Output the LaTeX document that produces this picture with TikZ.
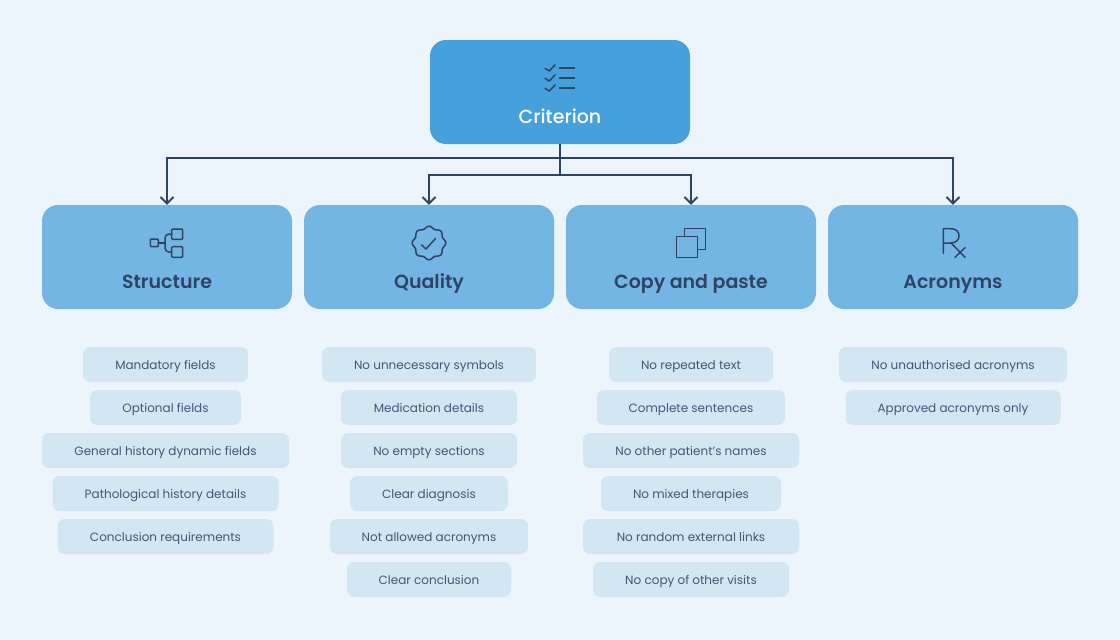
\documentclass[tikz,border=0pt]{standalone}
\usepackage{fontspec}
\setmainfont{Poppins}
\newfontfamily\headfont{Poppins SemiBold}
\newfontfamily\rootfont{Poppins Medium}
\usetikzlibrary{arrows.meta}
\definecolor{bgc}{HTML}{EDF5FC}
\definecolor{rootc}{HTML}{46A0DB}
\definecolor{headc}{HTML}{74B6E3}
\definecolor{pillc}{HTML}{D2E7F4}
\definecolor{ink}{HTML}{2F4364}
\tikzset{
  rootbox/.style={fill=rootc,rounded corners=16pt,minimum width=260pt,minimum height=104pt,inner sep=0pt,text=white,font=\rootfont\fontsize{19}{19}\selectfont},
  headbox/.style={fill=headc,rounded corners=16pt,minimum width=250pt,minimum height=104pt,inner sep=0pt,text=ink,font=\headfont\fontsize{19}{19}\selectfont},
  pill/.style={fill=pillc,rounded corners=7pt,minimum height=35pt,inner sep=0pt,text height=10.5pt,text depth=1.5pt,text=ink!90,font=\fontsize{12}{12}\selectfont},
  conn/.style={draw=ink,line width=1.9pt,-{Straight Barb[length=6.5pt,width=13pt,line width=1.9pt]}},
  icon/.style={draw=ink,line width=1.5pt,line join=round,line cap=round},
}
\newcommand{\lowtext}[1]{\raisebox{-31pt}[0pt][0pt]{#1}}
\begin{document}
\begin{tikzpicture}[x=1pt,y=-1pt]
\useasboundingbox (0,0) rectangle (1120,640);
\fill[bgc] (0,0) rectangle (1120,640);
\node[rootbox] (root) at (560,92) {\lowtext{Criterion}};
\node[headbox] (structure) at (167,257) {\lowtext{Structure}};
\node[headbox] (quality) at (429,257) {\lowtext{Quality}};
\node[headbox] (copy) at (691,257) {\lowtext{Copy and paste}};
\node[headbox] (acronyms) at (953,257) {\lowtext{Acronyms}};
\coordinate (outer) at (560,158);
\coordinate (inner) at (560,175);
\draw[conn,-] (root.south) -- (inner);
\draw[conn] (outer) -| (structure.north);
\draw[conn] (outer) -| (acronyms.north);
\draw[conn] (inner) -| (quality.north);
\draw[conn] (inner) -| (copy.north);
% pills: column 1
\node[pill,minimum width=165pt] (s1) at (165.5,364.5) {Mandatory fields};
\node[pill,minimum width=151pt] (s2) at (165.5,407.5) {Optional fields};
\node[pill,minimum width=247pt] (s3) at (165.5,450.5) {General history dynamic fields};
\node[pill,minimum width=226pt] (s4) at (165.5,493.5) {Pathological history details};
\node[pill,minimum width=216pt] (s5) at (165.5,536.5) {Conclusion requirements};
% column 2
\node[pill,minimum width=214pt] (q1) at (429,364.5) {No unnecessary symbols};
\node[pill,minimum width=176pt] (q2) at (429,407.5) {Medication details};
\node[pill,minimum width=176pt] (q3) at (429,450.5) {No empty sections};
\node[pill,minimum width=158pt] (q4) at (429,493.5) {Clear diagnosis};
\node[pill,minimum width=198pt] (q5) at (429,536.5) {Not allowed acronyms};
\node[pill,minimum width=164pt] (q6) at (429,579.5) {Clear conclusion};
% column 3
\node[pill,minimum width=164pt] (c1) at (691,364.5) {No repeated text};
\node[pill,minimum width=188pt] (c2) at (691,407.5) {Complete sentences};
\node[pill,minimum width=216pt] (c3) at (691,450.5) {No other patient’s names};
\node[pill,minimum width=180pt] (c4) at (691,493.5) {No mixed therapies};
\node[pill,minimum width=216pt] (c5) at (691,536.5) {No random external links};
\node[pill,minimum width=196pt] (c6) at (691,579.5) {No copy of other visits};
% column 4
\node[pill,minimum width=228pt] (a1) at (953,364.5) {No unauthorised acronyms};
\node[pill,minimum width=215pt] (a2) at (953,407.5) {Approved acronyms only};
% checklist icon
\foreach \d in {0,10,20}{
  \draw[icon] (545,68.3+\d) -- (549.3,71+\d) -- (555,65+\d);
  \draw[icon,line cap=butt,line width=1.7pt] (559.3,67.7+\d) -- (575,67.7+\d);
}
% structure icon
\draw[icon,rounded corners=1pt] (150.3,239) rectangle (158.3,246.7);
\draw[icon,rounded corners=1pt] (171.7,229) rectangle (182.7,239.3);
\draw[icon,rounded corners=1pt] (171.7,246.7) rectangle (182.7,257.3);
\draw[icon] (158.3,243) -- (165,243);
\draw[icon,rounded corners=4pt] (171.7,234) -- (165,234) -- (165,252) -- (171.7,252);
% badge icon
\draw[icon] plot[domain=0:360,samples=97,smooth] ({429+(15.7+1.1*cos(8*\x))*cos(\x+90)},{243+(15.7+1.1*cos(8*\x))*sin(\x+90)}) -- cycle;
\draw[icon] (421.7,245) -- (426,249) -- (435.7,238.3);
% copy icon
\draw[icon,line join=miter,line cap=butt] (676.7,236.7) rectangle (697.3,257.3);
\draw[icon,line join=miter,line cap=butt] (684.3,236.7) -- (684.3,228.7) -- (705.7,228.7) -- (705.7,249.3) -- (697.3,249.3);
% Rx icon
\draw[icon] (943.3,253.3) -- (943.3,228.7) -- (950,228.7) .. controls (957,228.7) and (959,232) .. (959,236) .. controls (959,240) and (956,243) .. (950,243) -- (943.3,243);
\draw[icon] (951,243) -- (965,257.3);
\draw[icon] (955,257.3) -- (965,247.7);
\end{tikzpicture}
\end{document}
